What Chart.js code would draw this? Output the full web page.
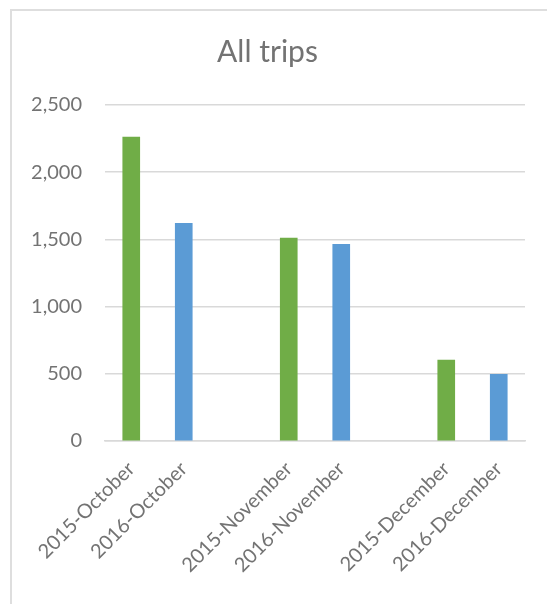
<!DOCTYPE html>
<html lang="en">
<head>
    <meta charset="UTF-8">
    <title>All trips</title>
    <script src="https://cdn.jsdelivr.net/npm/chart.js"></script>
    <style>
        body {
            margin: 0;
            background: #ffffff;
            overflow: hidden;
        }
        .frame {
            position: absolute;
            left: 10px;
            top: 9px;
            width: 600px;
            height: 700px;
            border-left: 2px solid #dedede;
            border-top: 2px solid #dedede;
        }
        .chart-box {
            position: absolute;
            left: 0;
            top: 0;
            width: 547px;
            height: 604px;
        }
    </style>
</head>
<body>
    <div class="frame"></div>
    <div class="chart-box">
        <canvas id="tripsChart"></canvas>
    </div>

    <script>
        const categories = ['2015-October', '2016-October', '', '2015-November', '2016-November', '', '2015-December', '2016-December'];
        const trips2015 = [2262, null, null, 1510, null, null, 603, null];
        const trips2016 = [null, 1620, null, null, 1463, null, null, 496];
        const yTicks = [0, 500, 1000, 1500, 2000, 2500];

        const textColor = '#737373';
        const gridColor = '#d9d9d9';

        new Chart(document.getElementById('tripsChart'), {
            type: 'bar',
            data: {
                labels: categories,
                datasets: [
                    { label: '2015', data: trips2015, backgroundColor: '#70ad47' },
                    { label: '2016', data: trips2016, backgroundColor: '#5b9bd5' }
                ]
            },
            options: {
                responsive: true,
                maintainAspectRatio: false,
                animation: false,
                grouped: false,
                barThickness: 17,
                layout: { padding: { left: 10, right: 22, top: 0, bottom: 0 } },
                plugins: {
                    legend: { display: false },
                    tooltip: { enabled: false },
                    title: {
                        display: true,
                        text: 'All trips',
                        color: textColor,
                        font: { family: 'Lato', size: 30, weight: 'normal' },
                        padding: { top: 34, bottom: 35 }
                    }
                },
                scales: {
                    x: {
                        grid: { display: false },
                        border: { color: gridColor, width: 1.5 },
                        ticks: {
                            color: textColor,
                            font: { family: 'Lato', size: 20 },
                            minRotation: 45,
                            maxRotation: 45,
                            autoSkip: false,
                            padding: 8
                        },
                        afterFit: scale => { scale.height = 163; }
                    },
                    y: {
                        min: 0,
                        max: 2500,
                        afterBuildTicks: scale => { scale.ticks = yTicks.map(v => ({ value: v })); },
                        grid: { color: gridColor, lineWidth: 1.5, drawTicks: false },
                        border: { display: false },
                        ticks: {
                            color: textColor,
                            font: { family: 'Lato', size: 20 },
                            padding: 23,
                            callback: v => v.toLocaleString('en-US')
                        },
                        afterFit: scale => { scale.width = 95; }
                    }
                }
            }
        });
    </script>
</body>
</html>
